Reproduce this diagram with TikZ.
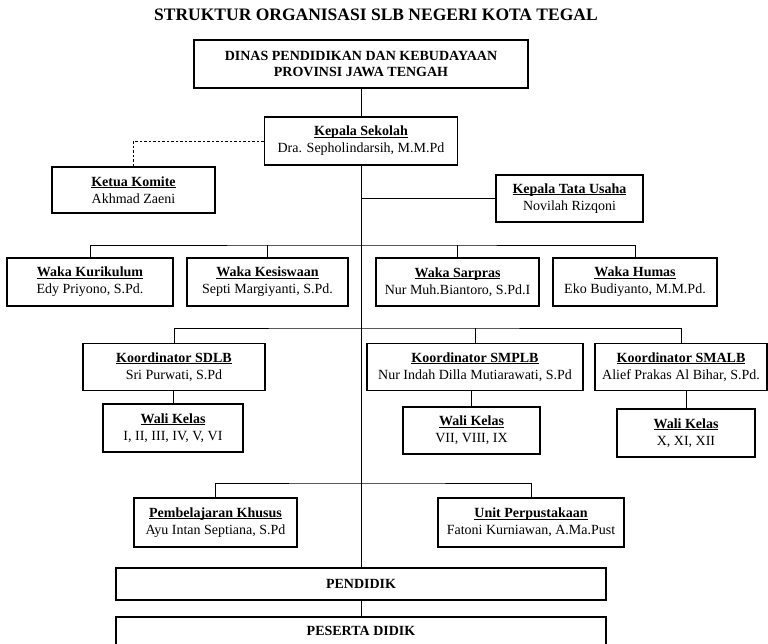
\documentclass[tikz,border=0pt]{standalone}
\usepackage{fontspec}
\setmainfont{Liberation Serif}
\newcommand{\garisbawah}[1]{\leavevmode\setbox0\hbox{#1}\rlap{\rule[-1.8pt]{\wd0}{0.7pt}}\box0}
\newcommand{\jabatan}[2]{\garisbawah{\textbf{#1}}\\#2}

\begin{document}
\begin{tikzpicture}[x=1pt, y=-1pt,
    kotak/.style={draw, line width=1.1pt, align=center, inner sep=2pt,
        font=\fontsize{14}{17}\selectfont},
    garis/.style={line width=0.9pt}]
    % Define canvas size
    \def\lebar{768}
    \def\tinggi{643}
    \useasboundingbox (0,0) rectangle (\lebar,\tinggi);

    % Title
    \node (judul) at (376,15) {\fontsize{17.5}{20}\selectfont\textbf{STRUKTUR ORGANISASI SLB NEGERI KOTA TEGAL}};

    % Top of the chart
    \node[kotak, minimum width=334, minimum height=48, font=\fontsize{14}{16}\selectfont\bfseries] (dinas) at (361,64)
        {DINAS PENDIDIKAN DAN KEBUDAYAAN\\PROVINSI JAWA TENGAH};
    \node[kotak, minimum width=193, minimum height=48] (kepsek) at (361,141)
        {\jabatan{Kepala Sekolah}{Dra. Sepholindarsih, M.M.Pd}};
    \node[kotak, minimum width=163, minimum height=46] (komite) at (133.5,190)
        {\jabatan{Ketua Komite}{Akhmad Zaeni}};
    \node[kotak, minimum width=147, minimum height=47] (tu) at (569.5,198.5)
        {\jabatan{Kepala Tata Usaha}{Novilah Rizqoni}};

    % Waka row
    \foreach \nm/\x/\w/\jab/\nama in {waka1/90/166/{Waka Kurikulum}/{Edy Priyono, S.Pd.},
        waka2/267.5/161/{Waka Kesiswaan}/{Septi Margiyanti, S.Pd.},
        waka3/457.5/163/{Waka Sarpras}/{Nur Muh.Biantoro, S.Pd.I},
        waka4/635/164/{Waka Humas}/{Eko Budiyanto, M.M.Pd.}} {
        \node[kotak, minimum width=\w, minimum height=48] (\nm) at (\x,282) {\jabatan{\jab}{\nama}};
    }

    % Koordinator row
    \node[kotak, minimum width=182, minimum height=47] (koord1) at (174,367)
        {\jabatan{Koordinator SDLB}{Sri Purwati, S.Pd}};
    \node[kotak, minimum width=216, minimum height=47] (koord2) at (475,367)
        {\jabatan{Koordinator SMPLB}{Nur Indah Dilla Mutiarawati, S.Pd}};
    \node[kotak, minimum width=172, minimum height=47] (koord3) at (681,367)
        {\jabatan{Koordinator SMALB}{Alief Prakas Al Bihar, S.Pd.}};

    % Wali kelas row
    \node[kotak, minimum width=140, minimum height=48] (wali1) at (173,428)
        {\jabatan{Wali Kelas}{I, II, III, IV, V, VI}};
    \node[kotak, minimum width=137, minimum height=47] (wali2) at (471.5,430.5)
        {\jabatan{Wali Kelas}{VII, VIII, IX}};
    \node[kotak, minimum width=138, minimum height=48] (wali3) at (686,433)
        {\jabatan{Wali Kelas}{X, XI, XII}};

    % Bottom units
    \node[kotak, minimum width=163, minimum height=49] (pk) at (215.5,522.5)
        {\jabatan{Pembelajaran Khusus}{Ayu Intan Septiana, S.Pd}};
    \node[kotak, minimum width=186, minimum height=49] (up) at (531,522.5)
        {\jabatan{Unit Perpustakaan}{Fatoni Kurniawan, A.Ma.Pust}};
    \node[kotak, minimum width=490, minimum height=32, font=\fontsize{14}{17}\selectfont\bfseries] (pendidik) at (361,584) {PENDIDIK};
    \node[kotak, minimum width=490, minimum height=28, font=\fontsize{14}{17}\selectfont\bfseries] (peserta) at (361,631) {PESERTA DIDIK};

    % Connectors
    \coordinate (barwaka) at (361,245);
    \coordinate (barkoord) at (361,328);
    \coordinate (barbawah) at (361,483);
    \draw[garis] (dinas) -- (kepsek);
    \draw[garis] (kepsek.south) -- (pendidik.north);
    \draw[garis] (pendidik) -- (peserta);
    \draw[garis, dash pattern=on 2.5pt off 2pt] (kepsek.west) -| (komite.north);
    \draw[garis] (tu.west) -- (tu.west -| kepsek.south);
    \draw[garis] (waka1.north) |- (barwaka) -| (waka4.north);
    \draw[garis] (waka2.north) -- (waka2.north |- barwaka);
    \draw[garis] (waka3.north) -- (waka3.north |- barwaka);
    \draw[garis] (koord1.north) |- (barkoord) -| (koord3.north);
    \draw[garis] (koord2.north) -- (koord2.north |- barkoord);
    \foreach \i in {1,2,3} {
        \draw[garis] (wali\i.north) -- (wali\i.north |- koord\i.south);
    }
    \draw[garis] (pk.north) |- (barbawah) -| (up.north);

\end{tikzpicture}
\end{document}
